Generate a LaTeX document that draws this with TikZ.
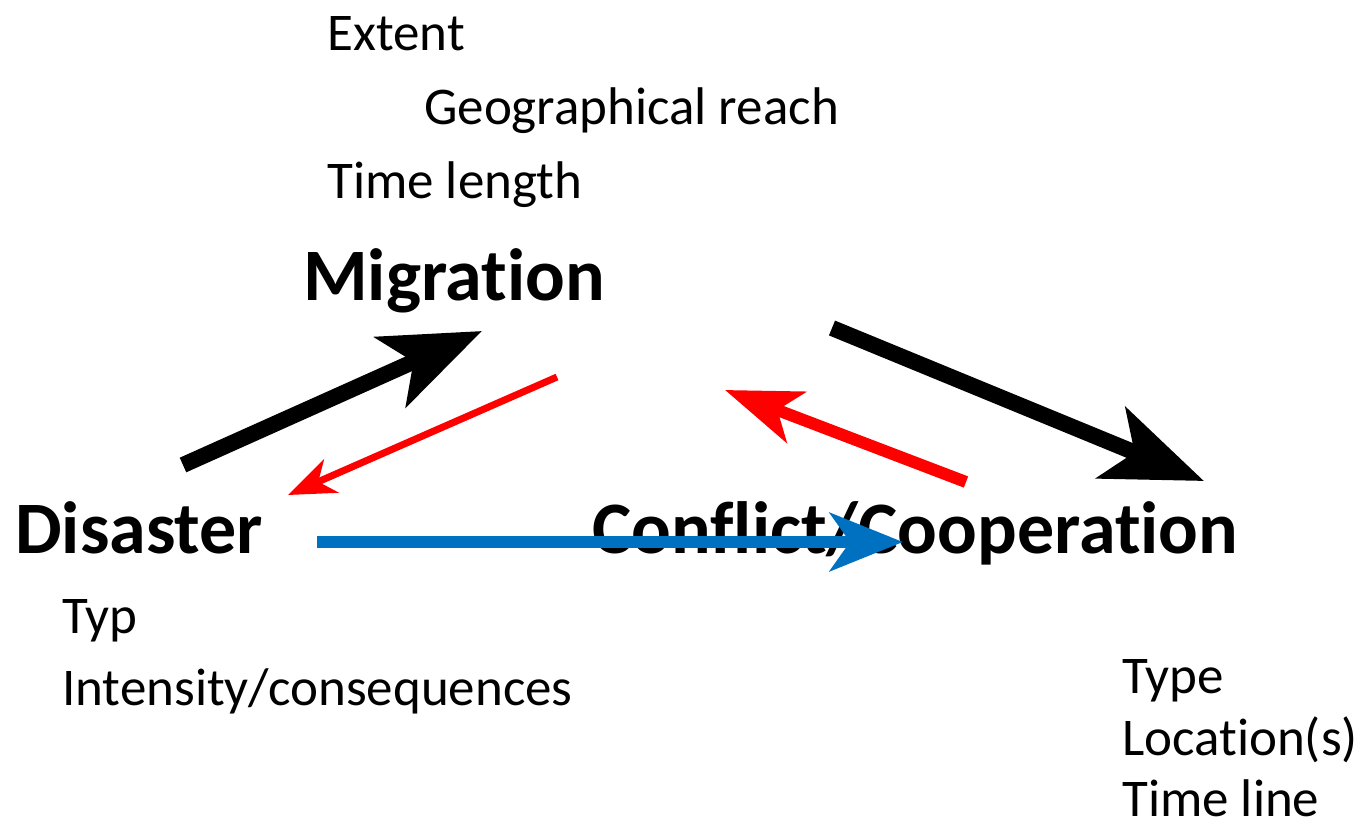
\documentclass[tikz,border=0pt]{standalone}
\usepackage{fontspec}
\setmainfont[Ligatures={NoCommon}, RawFeature={-liga;-clig;-calt;-dlig}]{Carlito}
\usetikzlibrary{arrows.meta}
\definecolor{flowblue}{HTML}{0070C0}
\definecolor{flowred}{HTML}{FF0000}
\tikzset{
  item/.style={anchor=base west, inner sep=0pt, font=\fontsize{53}{60}\selectfont},
  concept/.style={anchor=base west, inner sep=0pt, font=\fontsize{74}{84}\selectfont\bfseries},
  bigarrow/.style={draw=black, line width=16pt,
    -{Stealth[length=100pt, width=76pt, inset=25pt]}},
  thinred/.style={draw=flowred, line width=7pt,
    -{Stealth[length=47pt, width=36pt, inset=14pt]}},
  midred/.style={draw=flowred, line width=12pt,
    -{Stealth[length=76pt, width=54pt, inset=20pt]}},
  bluearrow/.style={draw=flowblue, line width=12pt,
    -{Stealth[length=73pt, width=58pt, inset=20pt]}}
}
\begin{document}
\begin{tikzpicture}[x=1pt, y=-1pt]
\useasboundingbox (0,0) rectangle (1364,823);

% migration and its attributes
\node[item] (extent) at (327,50) {Extent};
\node[item] (reach) at (424,124) {Geographical reach};
\node[item] (timelen) at (327,198) {Time length};
\node[concept] (mig) at (303,300) {Migration};

% disaster and its attributes
\node[concept] (dis) at (15,553) {Disaster};
\node[item] (typ) at (62,633) {Typ};
\node[item] (intens) at (62,705) {Intensity/consequences};

% conflict / cooperation and its attributes
\node[concept] (con) at (592,553) {Conflict/Cooperation};
\node[item] (type) at (1122,693) {Type};
\node[item] (loc) at (1122,755) {Location(s)};
\node[item] (tline) at (1122,816) {Time line};

% arrow end points
\coordinate (dm1) at (183,465);
\coordinate (dm2) at (482,331);
\coordinate (md1) at (557,377);
\coordinate (md2) at (288,495);
\coordinate (mc1) at (832,328);
\coordinate (mc2) at (1204,481);
\coordinate (cm1) at (966,482);
\coordinate (cm2) at (725,390);
\coordinate (dc1) at (317,542);
\coordinate (dc2) at (903,542);

\draw[bigarrow] (dm1) -- (dm2);
\draw[thinred] (md1) -- (md2);
\draw[bigarrow] (mc1) -- (mc2);
\draw[midred] (cm1) -- (cm2);
\draw[bluearrow] (dc1) -- (dc2);
\end{tikzpicture}
\end{document}
